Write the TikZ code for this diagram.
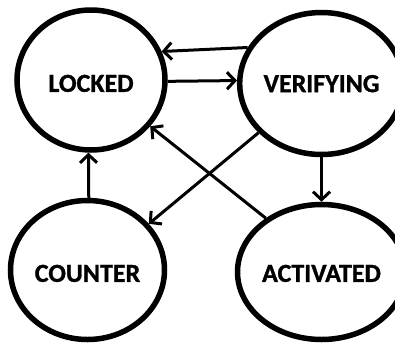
\documentclass[tikz,border=0pt]{standalone}
\usepackage{fontspec}
\setmainfont{Carlito}
\newfontfamily\statefont{Carlito}[UprightFont=*-Bold, FakeBold=1.2]
\usetikzlibrary{shapes.geometric,arrows.meta}

\tikzset{
  state/.style={ellipse, draw, line width=5.5pt, inner sep=0pt,
    font=\fontsize{26}{28}\statefont, text depth=0pt},
  trans/.style={line width=3pt, -{Straight Barb[length=8pt,width=17pt,line width=3pt]}}
}

\begin{document}
\begin{tikzpicture}[x=1pt,y=1pt]
  \useasboundingbox (0,0) rectangle (395,-343);

  % the four states (text height lowers the label inside its ring)
  \node[state, minimum width=148pt, minimum height=140pt, text height=23.7pt] (L) at (91,-80)      {LOCKED};
  \node[state, minimum width=148pt, minimum height=142pt, text height=17.2pt] (V) at (321.5,-83.5) {VERIFYING};
  \node[state, minimum width=154pt, minimum height=139pt, text height=23.7pt] (C) at (87.5,-270)   {COUNTER};
  \node[state, minimum width=148pt, minimum height=135pt, text height=19.7pt] (A) at (321.5,-272)  {ACTIVATED};

  % transitions
  \draw[trans] (V.154) -- (L.22);
  \draw[trans] (L.-1) -- (V.178);
  \draw[trans] (V.218) -- (C.37.8);
  \draw[trans] (A.136.3) -- (L.-38.2);
  \draw[trans] (V.south) -- (A.north);
  \draw[trans] (C.89) -- (L.268);
\end{tikzpicture}
\end{document}
